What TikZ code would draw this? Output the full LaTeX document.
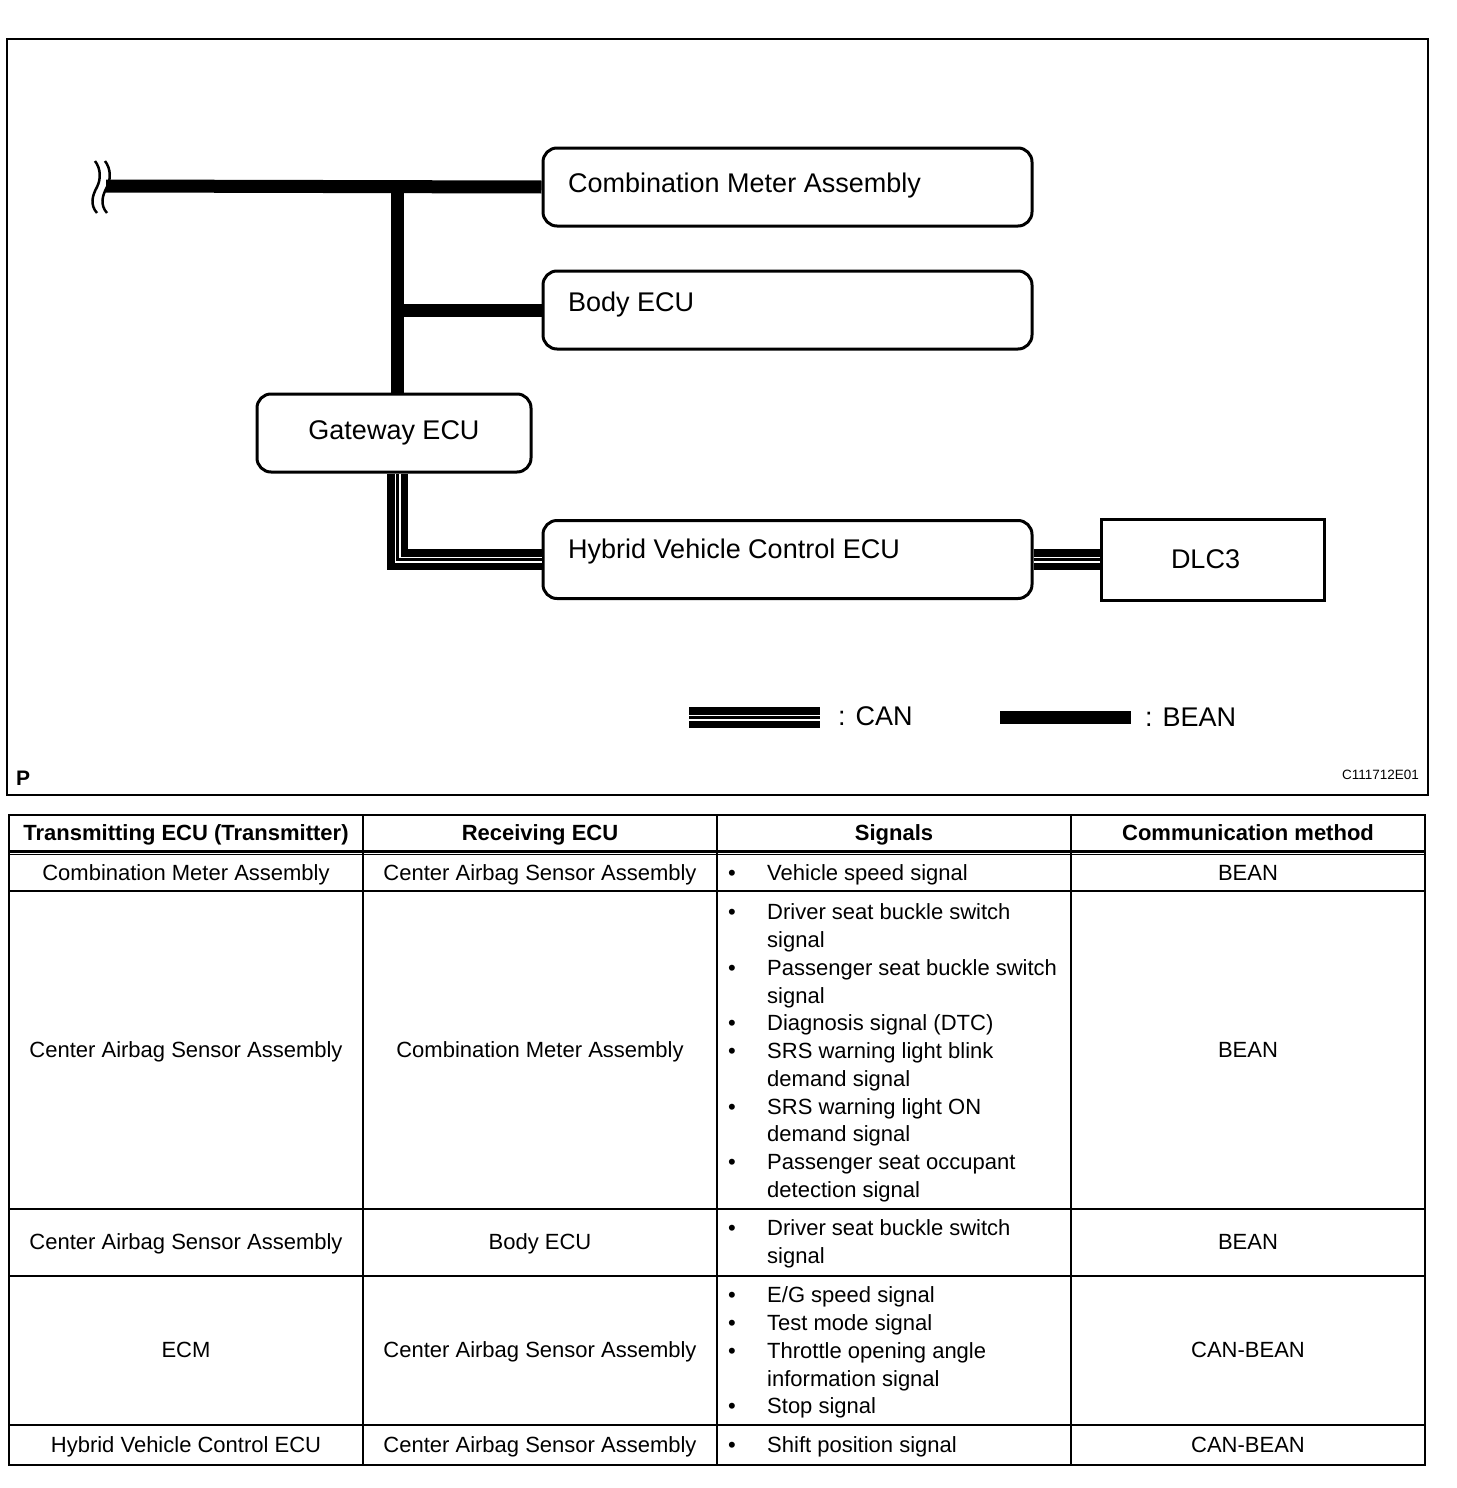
\documentclass[tikz,border=0pt]{standalone}
\usepackage{fontspec}
\setmainfont{Liberation Sans}
\newcommand\sigl[3]{\node[cell,anchor=base west] (#1) at (767,#2) {#3};}
\newcommand\bult[2]{\node[cell,anchor=base] (#1) at (732,#2) {•};}
\newcommand\ctext[4]{\node[cell,anchor=base] (#1) at (#2,#3) {#4};}
\begin{document}
\begin{tikzpicture}[x=1pt,y=-1pt,
 box/.style={draw, line width=3pt, rounded corners=14pt, minimum width=489pt, minimum height=78pt, inner sep=0pt},
 sqbox/.style={draw, line width=3pt, minimum width=223pt, minimum height=81pt, inner sep=0pt},
 lbl/.style={font=\fontsize{27}{32}\selectfont, inner sep=0pt},
 bean/.style={line width=13pt, line join=miter},
 can/.style={line width=21pt, line join=miter, postaction={draw=white, line width=6pt}, postaction={draw=black, line width=3pt}},
 cell/.style={font=\fontsize{22}{27.8}\selectfont, inner sep=0pt},
 hcell/.style={font=\bfseries\fontsize{22}{27.8}\selectfont, inner sep=0pt},
 grid/.style={line width=2pt},
 wavy/.style={line width=2.5pt}]
\useasboundingbox (0,0) rectangle (1456,1488);
% outer frame of the diagram
\draw[grid] (7,39) rectangle (1428,795);
% boxes
\node[box] (cm) at (787.5,187) {};
\node[box] (bd) at (787.5,310) {};
\node[box] (hv) at (787.5,559.5) {};
\node[box, minimum width=274pt, lbl] (gw) at (394,433) {Gateway ECU};
\node[sqbox, lbl] (dlc) at (1212.5,559.5) {DLC3\hspace*{14pt}};
\node[lbl, anchor=base west] (cmt) at (568,192) {Combination Meter Assembly};
\node[lbl, anchor=base west] (bdt) at (568,311) {Body ECU};
\node[lbl, anchor=base west] (hvt) at (568,558) {Hybrid Vehicle Control ECU};
% BEAN lines
\coordinate (brk) at (106,186);
\coordinate (j1) at (397.5,186);
\coordinate (j2) at (397.5,310);
\draw[bean] (brk) -- (cm.west);
\draw[bean] (j1) -- (j1 |- gw.north);
\draw[bean] (j2) -- (bd.west);
% break mark
\draw[wavy] (95,161) .. controls (101,169) and (101,179) .. (97,187) .. controls (92,196) and (90,205) .. (97,213);
\draw[wavy] (105,161) .. controls (111,169) and (111,179) .. (107,187) .. controls (102,196) and (100,205) .. (107,213);
% CAN lines
\draw[can] (j1 |- gw.south) |- (hv.west);
\draw[can] (hv.east) -- (dlc.west);
% legend
\coordinate (canA) at (689,717.5);
\coordinate (canB) at (820,717.5);
\draw[can] (canA) -- (canB);
\node[lbl, anchor=base west] (canL) at (838,725) {: CAN};
\coordinate (beanA) at (1000,717);
\coordinate (beanB) at (1131,717);
\draw[bean] (beanA) -- (beanB);
\node[lbl, anchor=base west] (beanL) at (1145,726) {: BEAN};
\node[font=\bfseries\fontsize{21}{24}\selectfont, inner sep=0pt, anchor=base west] (pmark) at (16,785) {P};
\node[font=\fontsize{13.5}{16}\selectfont, inner sep=0pt, anchor=base east] (code) at (1419,779) {C111712E01};
% table
\draw[grid] (9,815) rectangle (1425,1465);
\foreach \cx in {363,717,1071} \draw[grid] (\cx,815) -- (\cx,1465);
\draw[line width=2.7pt] (9,851.3) -- (1425,851.3);
\draw[line width=1.7pt] (9,854.6) -- (1425,854.6);
\foreach \ry in {891,1209,1276,1425} \draw[grid] (9,\ry) -- (1425,\ry);
% header
\node[hcell,anchor=base] (h1) at (186,840) {Transmitting ECU (Transmitter)};
\node[hcell,anchor=base] (h2) at (540,840) {Receiving ECU};
\node[hcell,anchor=base] (h3) at (894,840) {Signals};
\node[hcell,anchor=base] (h4) at (1248,840) {Communication method};
% row 1
\ctext{r1a}{186}{880}{Combination Meter Assembly}
\ctext{r1b}{540}{880}{Center Airbag Sensor Assembly}
\bult{r1u}{880}\sigl{r1s}{880}{Vehicle speed signal}
\ctext{r1d}{1248}{880}{BEAN}
% row 2
\ctext{r2a}{186}{1057}{Center Airbag Sensor Assembly}
\ctext{r2b}{540}{1057}{Combination Meter Assembly}
\bult{r2u1}{919}\sigl{r2s1}{919}{Driver seat buckle switch}
\sigl{r2s2}{947}{signal}
\bult{r2u2}{975}\sigl{r2s3}{975}{Passenger seat buckle switch}
\sigl{r2s4}{1003}{signal}
\bult{r2u3}{1030}\sigl{r2s5}{1030}{Diagnosis signal (DTC)}
\bult{r2u4}{1058}\sigl{r2s6}{1058}{SRS warning light blink}
\sigl{r2s7}{1086}{demand signal}
\bult{r2u5}{1114}\sigl{r2s8}{1114}{SRS warning light ON}
\sigl{r2s9}{1141}{demand signal}
\bult{r2u6}{1169}\sigl{r2s10}{1169}{Passenger seat occupant}
\sigl{r2s11}{1197}{detection signal}
\ctext{r2d}{1248}{1057}{BEAN}
% row 3
\ctext{r3a}{186}{1249}{Center Airbag Sensor Assembly}
\ctext{r3b}{540}{1249}{Body ECU}
\bult{r3u1}{1235}\sigl{r3s1}{1235}{Driver seat buckle switch}
\sigl{r3s2}{1263}{signal}
\ctext{r3d}{1248}{1249}{BEAN}
% row 4
\ctext{r4a}{186}{1357}{ECM}
\ctext{r4b}{540}{1357}{Center Airbag Sensor Assembly}
\bult{r4u1}{1302}\sigl{r4s1}{1302}{E/G speed signal}
\bult{r4u2}{1330}\sigl{r4s2}{1330}{Test mode signal}
\bult{r4u3}{1358}\sigl{r4s3}{1358}{Throttle opening angle}
\sigl{r4s4}{1386}{information signal}
\bult{r4u4}{1413}\sigl{r4s5}{1413}{Stop signal}
\ctext{r4d}{1248}{1357}{CAN-BEAN}
% row 5
\ctext{r5a}{186}{1452}{Hybrid Vehicle Control ECU}
\ctext{r5b}{540}{1452}{Center Airbag Sensor Assembly}
\bult{r5u}{1452}\sigl{r5s}{1452}{Shift position signal}
\ctext{r5d}{1248}{1452}{CAN-BEAN}
\end{tikzpicture}
\end{document}
